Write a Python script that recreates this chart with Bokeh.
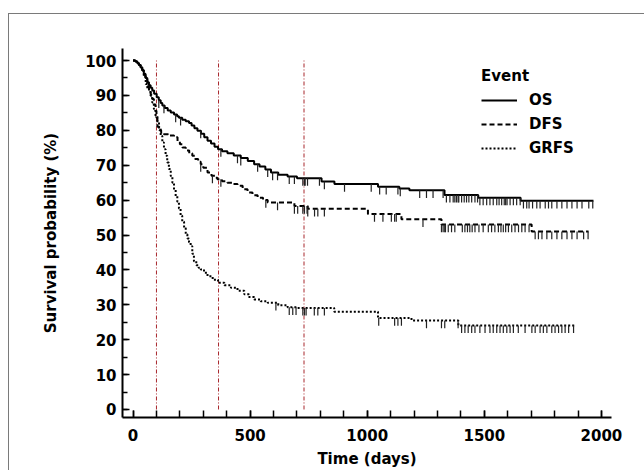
import numpy as np
from bokeh.plotting import figure
from bokeh.models import (SingleIntervalTicker, Legend, LegendItem, ColumnDataSource)
from bokeh.embed import file_html
from bokeh.resources import INLINE

# ---------------- data ----------------
os_t = [0, 10, 18, 25, 32, 39, 46, 53, 61, 68, 75, 82, 90, 101, 110, 118, 125, 135, 148, 161,
        175, 188, 196, 210, 225, 239, 250, 262, 275, 290, 304, 318, 333, 348, 363, 380, 403,
        430, 460, 490, 517, 540, 565, 589, 620, 660, 700, 805, 860, 1046, 1137, 1180, 1330,
        1474, 1655]
os_s = [100, 99.7, 99.2, 98.7, 98.0, 97.2, 96.2, 95.0, 93.8, 92.9, 92.2, 91.4, 90.5, 89.5,
        88.6, 87.8, 87.1, 86.4, 85.7, 85.1, 84.5, 84.0, 83.6, 83.0, 82.6, 82.1, 81.4, 80.6,
        79.9, 79.0, 78.0, 77.0, 76.2, 75.3, 74.6, 74.0, 73.4, 72.8, 72.1, 71.2, 70.3, 69.6,
        68.8, 67.9, 67.3, 66.8, 66.3, 65.3, 64.6, 63.8, 63.3, 62.8, 61.5, 60.7, 59.8]
os_end = 1966
os_cens = [110, 132, 182, 203, 289, 375, 446, 460, 532, 575, 596, 617, 667, 689, 725, 732, 735,
           745, 796, 817, 903, 1017, 1053, 1081, 1131, 1141, 1224, 1253, 1281, 1324, 1338,
           1353, 1367, 1374, 1381, 1388, 1391, 1403, 1414, 1424, 1434, 1446, 1460, 1471, 1481,
           1495, 1510, 1524, 1538, 1553, 1563, 1574, 1585, 1591, 1597, 1610, 1624, 1638, 1653,
           1667, 1681, 1691, 1706, 1724, 1738, 1760, 1774, 1788, 1810, 1831, 1853, 1874, 1896,
           1917, 1946, 1963]

dfs_t = [0, 10, 18, 25, 32, 39, 46, 53, 61, 68, 75, 82, 89, 96, 100, 104, 112, 120, 132, 150,
         175, 190, 200, 211, 225, 240, 253, 265, 278, 289, 300, 318, 335, 350, 360, 380, 403,
         425, 446, 468, 489, 510, 532, 555, 575, 689, 746, 1003, 1146, 1317, 1702]
dfs_s = [100, 99.7, 99.2, 98.7, 98.0, 97.2, 96.0, 94.6, 92.6, 91.4, 90.3, 89.0, 87.4, 85.6,
         83.6, 81.0, 80.0, 79.4, 78.9, 78.5, 78.0, 76.9, 76.0, 75.1, 74.2, 73.4, 72.7, 71.8,
         71.0, 70.3, 69.3, 67.9, 67.0, 66.4, 66.0, 65.4, 65.0, 64.6, 64.1, 63.1, 62.2, 61.4,
         60.7, 60.0, 59.3, 58.3, 57.5, 56.0, 54.5, 53.0, 51.0]
dfs_end = 1945
dfs_cens = [289, 339, 375, 567, 617, 689, 703, 725, 732, 743, 746, 775, 789, 817, 1031, 1067,
            1103, 1117, 1124, 1238, 1317, 1324, 1331, 1334, 1346, 1360, 1374, 1406, 1417, 1428,
            1438, 1448, 1460, 1477, 1495, 1517, 1531, 1545, 1560, 1571, 1581, 1591, 1603, 1617,
            1631, 1646, 1660, 1674, 1691, 1717, 1731, 1746, 1767, 1788, 1810, 1831, 1853, 1874,
            1896, 1924, 1943]

grfs_t = [0, 10, 18, 25, 32, 39, 46, 54, 61, 68, 75, 82, 89, 96, 104, 111, 118, 125, 132, 139,
          146, 153, 161, 168, 175, 182, 189, 196, 203, 210, 218, 225, 232, 239, 246, 253, 260,
          270, 280, 289, 303, 318, 340, 363, 390, 418, 446, 475, 495, 517, 545, 575, 620, 660,
          700, 859, 1046, 1189, 1389]
grfs_s = [100, 99.7, 99.2, 98.7, 98.0, 97.0, 95.5, 93.3, 92.0, 91.0, 89.9, 88.0, 86.1, 84.2,
          82.3, 80.4, 78.4, 76.5, 74.6, 72.7, 70.8, 68.9, 66.9, 65.0, 63.0, 61.2, 59.5, 57.6,
          55.5, 53.8, 52.0, 50.2, 49.0, 47.9, 46.8, 44.6, 42.5, 41.3, 40.6, 40.1, 39.2, 38.2,
          37.2, 36.3, 35.6, 34.9, 34.0, 33.0, 32.2, 31.5, 31.0, 30.6, 29.9, 29.3, 29.1, 28.0,
          26.2, 25.5, 24.1]
grfs_end = 1888
grfs_cens = [610, 667, 682, 696, 725, 732, 739, 774, 789, 817, 1049, 1117, 1131, 1146, 1253,
             1317, 1331, 1388, 1403, 1417, 1431, 1446, 1460, 1481, 1503, 1524, 1538, 1553, 1567,
             1581, 1596, 1610, 1624, 1645, 1674, 1703, 1717, 1738, 1752, 1767, 1788, 1802, 1817,
             1831, 1845, 1860, 1881]

landmarks = [100, 365, 730]
x_ticks_interval = 500
y_ticks_interval = 10

FONT = "DejaVu Sans"

# ---------------- figure ----------------
p = figure(width=636, height=457, output_backend="svg", toolbar_location=None,
           x_range=(-45, 2043), y_range=(-2.3, 103.45),
           min_border_left=113, min_border_right=34, min_border_top=34, min_border_bottom=54)
p.margin = (13, 0, 0, 8)
p.styles = {"border-left": "1px solid #7a7a7a", "border-top": "1px solid #7a7a7a"}
p.outline_line_color = None
p.xgrid.visible = False
p.ygrid.visible = False
p.background_fill_color = "white"
p.border_fill_color = "white"

for ax, tk in ((p.xaxis, SingleIntervalTicker(interval=x_ticks_interval, num_minor_ticks=5)),
               (p.yaxis, SingleIntervalTicker(interval=y_ticks_interval, num_minor_ticks=2))):
    ax.ticker = tk
    ax.axis_line_width = 2
    ax.axis_line_color = "black"
    ax.major_tick_in = 7
    ax.major_tick_out = 0
    ax.minor_tick_in = 5
    ax.minor_tick_out = 0
    ax.major_tick_line_width = 1.5
    ax.minor_tick_line_width = 1.5
    ax.major_label_text_font = FONT
    ax.major_label_text_font_style = "bold"
    ax.major_label_text_font_size = "15px"
    ax.major_label_text_color = "black"
    ax.axis_label_text_font = FONT
    ax.axis_label_text_font_style = "bold"
    ax.axis_label_text_font_size = "15px"
    ax.axis_label_text_color = "black"

p.yaxis.minor_tick_in = 5
p.xaxis.minor_tick_in = 7
p.xaxis.axis_label = "Time (days)"
p.yaxis.axis_label = "Survival probability (%)"
p.xaxis.major_label_standoff = 11
p.xaxis.axis_label_standoff = 6
p.yaxis.major_label_standoff = 6
p.yaxis.axis_label_standoff = 22

# landmark lines
for lm in landmarks:
    p.line([lm, lm], [0, 100], line_color="#a8272c", line_width=1, line_dash="4 2 1 2")


def draw(ts, ss, end, cens, dash, width):
    xs = list(ts) + [end]
    ys = list(ss) + [ss[-1]]
    r = p.step(xs, ys, mode="after", line_color="black", line_width=width, line_dash=dash)
    ta = np.array(ts)
    sa = np.array(ss)
    idx = np.searchsorted(ta, np.array(cens), side="right") - 1
    yv = sa[idx]
    src = ColumnDataSource(dict(x=cens, y0=yv, y1=yv - 2.2))
    p.segment(x0="x", y0="y0", x1="x", y1="y1", source=src, line_color="#222222", line_width=1.2)
    return r


r_os = draw(os_t, os_s, os_end, os_cens, "solid", 2)
r_dfs = draw(dfs_t, dfs_s, dfs_end, dfs_cens, "5 3", 2)
r_grfs = draw(grfs_t, grfs_s, grfs_end, grfs_cens, "2 2", 2)

legend = Legend(items=[LegendItem(label="OS", renderers=[r_os]),
                       LegendItem(label="DFS", renderers=[r_dfs]),
                       LegendItem(label="GRFS", renderers=[r_grfs])],
                title="Event", location=(359, 259))
legend.title_text_font = FONT
legend.title_text_font_style = "bold"
legend.title_text_font_size = "15px"
legend.title_text_color = "black"
legend.title_standoff = 5
legend.label_text_font = FONT
legend.label_text_font_style = "bold"
legend.label_text_font_size = "15px"
legend.label_text_color = "black"
legend.glyph_width = 36
legend.glyph_height = 20
legend.label_height = 20
legend.label_standoff = 12
legend.spacing = 4
legend.padding = 0
legend.margin = 0
legend.border_line_color = None
legend.background_fill_alpha = 0
p.add_layout(legend)

open("out.html", "w").write(file_html(p, INLINE))
